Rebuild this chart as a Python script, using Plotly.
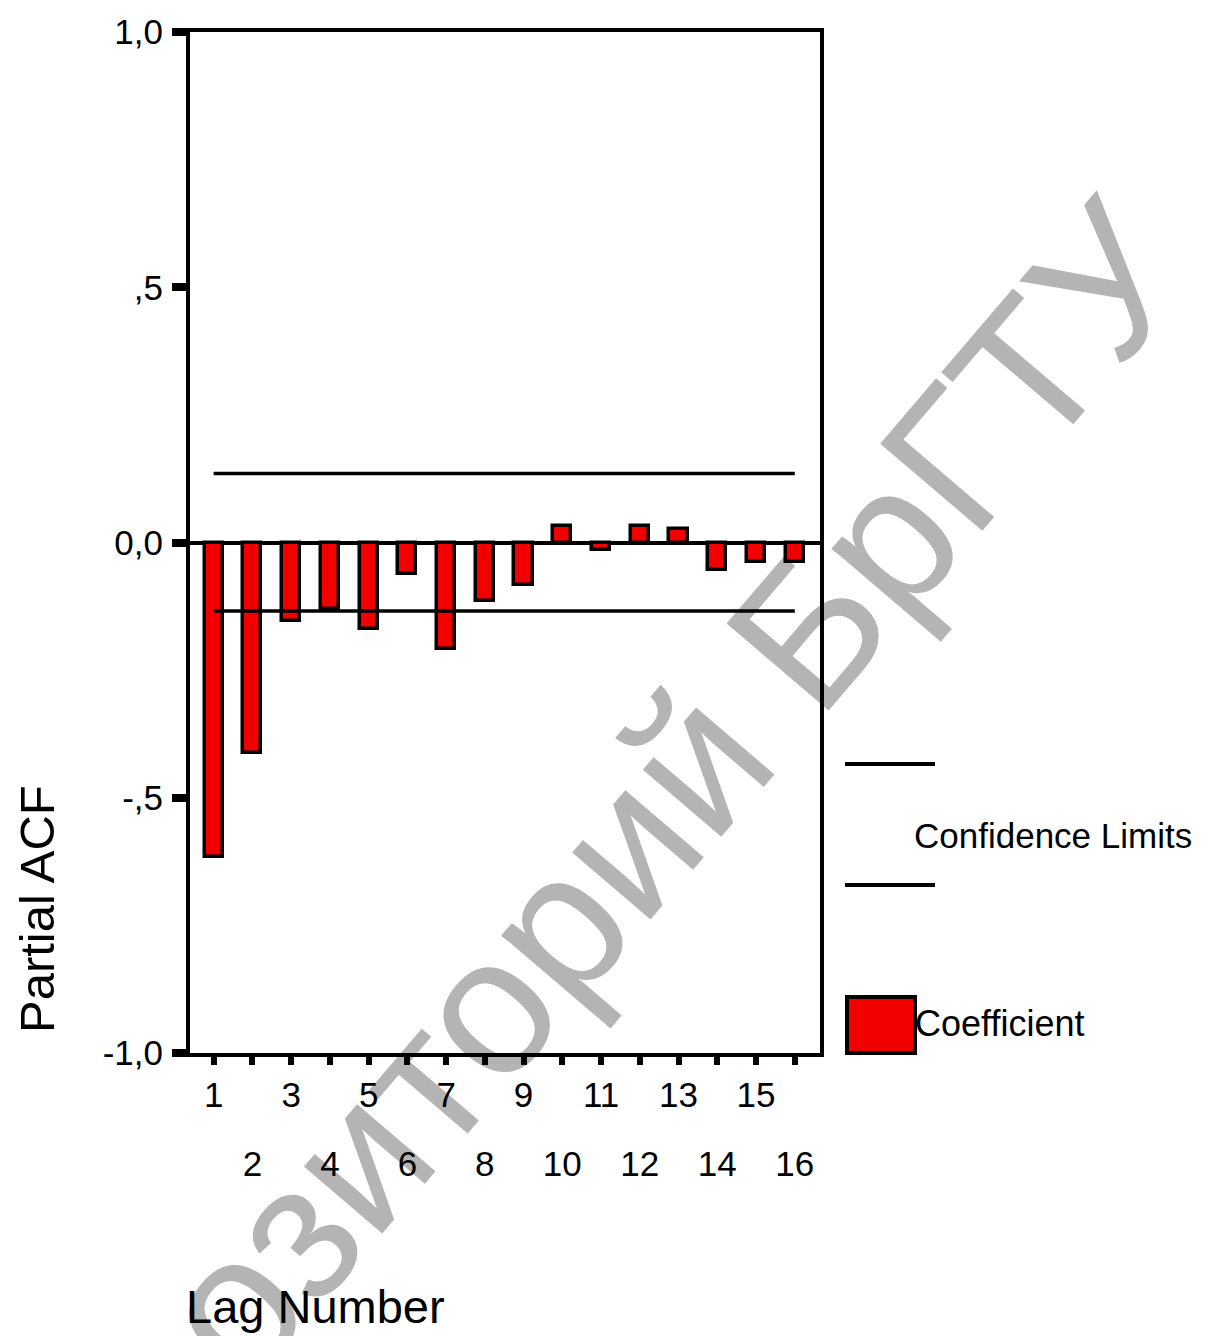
import plotly.graph_objects as go

# ---- data ----
lags = list(range(1, 17))
pacf = [-0.617, -0.413, -0.154, -0.131, -0.170, -0.061, -0.209, -0.115,
        -0.084, 0.033, -0.015, 0.033, 0.026, -0.054, -0.039, -0.039]
conf_upper = 0.135
conf_lower = -0.134
y_tickvals = [1.0, 0.5, 0.0, -0.5, -1.0]
y_ticktext = ["1,0", ",5", "0,0", "-,5", "-1,0"]
odd_labels = [str(l) if l % 2 == 1 else "" for l in lags]
even_lags = [l for l in lags if l % 2 == 0]
even_labels = [str(l) for l in even_lags]

FONT = "Liberation Sans, Arial, sans-serif"
RED = "rgb(242,0,0)"

# page has an 8px body margin; work in page pixels
OFF = 8
PL, PT, PR, PB = 190, 32, 820, 1053   # plot area in page pixels
W, H = 1209 - OFF, 1336 - OFF
L, T = PL - OFF, PT - OFF
PW, PH = PR - PL, PB - PT
R, B = W - L - PW, H - T - PH


def px(x):
    return (x - PL) / PW


def py(y):
    return (PB - y) / PH


fig = go.Figure()
fig.add_trace(go.Bar(x=lags, y=pacf, width=0.47,
                     marker=dict(color=RED, line=dict(color="black", width=3.5)),
                     name="Coefficient", showlegend=False))
fig.add_trace(go.Scatter(x=[lags[0], lags[-1]], y=[conf_upper, conf_upper], mode="lines",
                         line=dict(color="black", width=3.5), showlegend=False))
fig.add_trace(go.Scatter(x=[lags[0], lags[-1]], y=[conf_lower, conf_lower], mode="lines",
                         line=dict(color="black", width=3.5), showlegend=False))
# helper trace so the second (even-label) x axis is drawn
fig.add_trace(go.Scatter(x=[even_lags[0]], y=[0], xaxis="x2", mode="markers",
                         marker=dict(opacity=0), hoverinfo="skip", showlegend=False))

xr = [0.39, 16.65]
fig.update_layout(
    width=W, height=H,
    margin=dict(l=L, r=R, t=T, b=B, pad=0, autoexpand=False),
    paper_bgcolor="white", plot_bgcolor="rgba(0,0,0,0)",
    font=dict(family=FONT, color="black"),
    bargap=0,
    xaxis=dict(range=xr, tickvals=lags, ticktext=odd_labels, ticks="outside",
               ticklen=8, tickwidth=6, tickcolor="black",
               showline=True, linewidth=4, linecolor="black", mirror=True,
               showgrid=False, zeroline=False, tickfont=dict(size=35, family=FONT),
               ticklabelstandoff=0, automargin=False),
    xaxis2=dict(range=xr, overlaying="x", anchor="y", side="bottom",
                tickvals=even_lags, ticktext=even_labels, ticks="",
                showline=False, showgrid=False, zeroline=False,
                tickfont=dict(size=35, family=FONT), ticklabelstandoff=87,
                automargin=False),
    yaxis=dict(range=[-1, 1], tickvals=y_tickvals, ticktext=y_ticktext, ticks="outside",
               ticklen=14, tickwidth=8, tickcolor="black",
               showline=True, linewidth=4, linecolor="black", mirror=True,
               showgrid=False, zeroline=True, zerolinecolor="black", zerolinewidth=4,
               tickfont=dict(size=35, family=FONT), ticklabelstandoff=2,
               automargin=False),
)

# watermark (below the chart)
fig.add_shape(type="rect", xref="paper", yref="paper",
              x0=px(547), x1=px(549), y0=py(906), y1=py(908),
              line=dict(width=0), fillcolor="rgba(0,0,0,0)", layer="below",
              label=dict(text="Репозиторий БрГТУ", textangle=-49.5,
                         textposition="middle center",
                         font=dict(size=195, color="#b4b4b4", family=FONT)))

# axis titles
fig.add_annotation(text="Partial ACF", xref="paper", yref="paper",
                   x=px(37), y=py(909), textangle=-90, showarrow=False,
                   font=dict(size=49, family=FONT), xanchor="center", yanchor="middle")
fig.add_annotation(text="Lag Number", xref="paper", yref="paper",
                   x=px(184), y=py(1306), showarrow=False,
                   font=dict(size=47, family=FONT), xanchor="left", yanchor="middle")

# custom legend
for yy in (764, 885):
    fig.add_shape(type="line", xref="paper", yref="paper",
                  x0=px(845), x1=px(935), y0=py(yy), y1=py(yy),
                  line=dict(color="black", width=4))
fig.add_annotation(text="Confidence Limits", xref="paper", yref="paper",
                   x=px(912), y=py(835), showarrow=False, xanchor="left", yanchor="middle",
                   font=dict(size=35, family=FONT))
fig.add_shape(type="rect", xref="paper", yref="paper",
              x0=px(847), x1=px(915), y0=py(997), y1=py(1053),
              fillcolor=RED, line=dict(color="black", width=4))
fig.add_annotation(text="Coefficient", xref="paper", yref="paper",
                   x=px(913), y=py(1023), showarrow=False, xanchor="left", yanchor="middle",
                   font=dict(size=36, family=FONT))

fig.write_html("out.html")
